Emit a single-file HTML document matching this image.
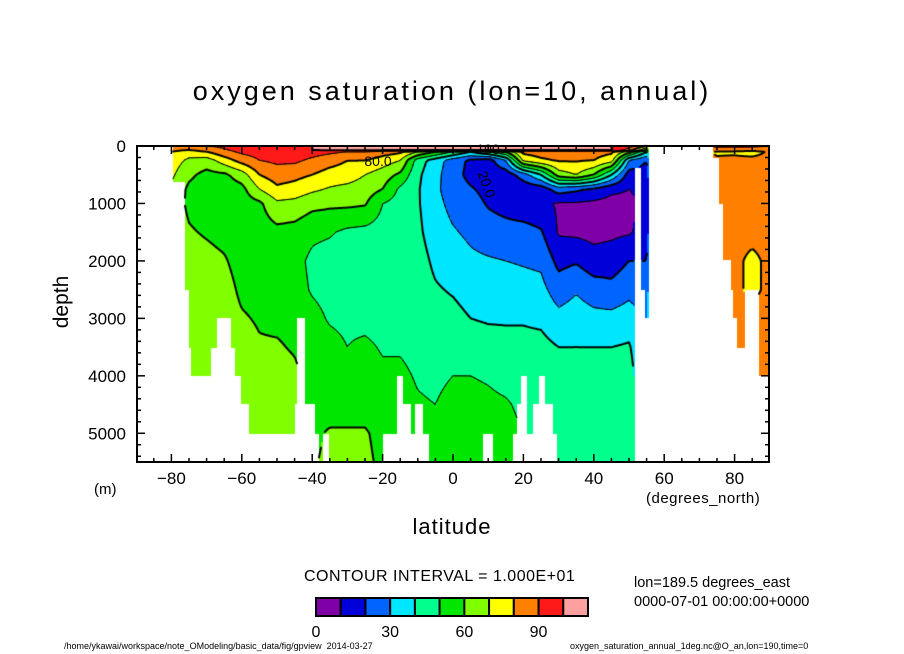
<!DOCTYPE html>
<html><head><meta charset="utf-8">
<style>
html,body{margin:0;padding:0;background:#fff;}
#root{position:relative;width:904px;height:654px;overflow:hidden;background:#fff;font-family:"Liberation Sans",sans-serif;color:#000;}
.t{position:absolute;white-space:nowrap;}
canvas{position:absolute;left:0;top:0;}
svg{position:absolute;left:0;top:0;}
</style></head>
<body>
<div id="root">
<canvas id="field" width="904" height="654"></canvas>
<svg id="ov" width="904" height="654"></svg>
<div class="t" style="left:0;width:904px;text-align:center;top:76px;font-size:27px;letter-spacing:3px;">oxygen saturation (lon=10, annual)</div>
<div class="t" style="left:30px;top:290px;font-size:21px;transform:rotate(-90deg);transform-origin:center;width:64px;text-align:center;">depth</div>
<div class="t" style="left:94px;top:481px;font-size:15px;">(m)</div>
<div class="t" style="left:0;width:904px;text-align:center;top:514px;font-size:22px;letter-spacing:1px;">latitude</div>
<div class="t" style="left:646px;top:490px;font-size:15px;letter-spacing:0.5px;">(degrees_north)</div>
<div class="t" style="left:304px;top:568px;font-size:16px;letter-spacing:0.5px;">CONTOUR INTERVAL = 1.000E+01</div>
<div class="t" style="left:634px;top:575px;font-size:14.5px;">lon=189.5 degrees_east</div>
<div class="t" style="left:634px;top:594px;font-size:14.5px;">0000-07-01 00:00:00+0000</div>
<div class="t" style="left:64px;top:641px;font-size:9px;">/home/ykawai/workspace/note_OModeling/basic_data/fig/gpview&nbsp;&nbsp;2014-03-27</div>
<div class="t" style="left:570px;top:641px;font-size:9px;">oxygen_saturation_annual_1deg.nc@O_an,lon=190,time=0</div>
</div>
<script>
// ---- data ----
const lats = [-90,-85,-80,-75,-70,-65,-60,-55,-50,-45,-40,-35,-30,-25,-20,-15,-10,-5,0,5,10,15,20,25,30,35,40,45,50,55,60,65,70,75,80,85,90];
const depths = [0,70,100,250,500,750,1000,1500,2000,2500,3000,3500,4000,4500,5000,5500];
const saturation = [
[85,82,80,75,72,70,70,70,70,70,70,70,70,70,70,70],
[85,82,80,75,72,70,70,70,70,70,70,70,70,70,70,70],
[85,82,80,75,72,68,66,66,66,66,66,66,66,66,66,66],
[88,80,75,68,62,58,58,61,64,65,66,66,66,66,66,66],
[90,84,80,65,57,55,55,59,63,65,66,66,66,66,66,66],
[92,89,87,75,58,55,55,57,61,64,65,66,66,66,66,66],
[95,93,92,84,65,57,55,54,56,58,61,64,66,67,67,67],
[96,95,94,90,80,70,58,55,55,57,59,61,64,66,67,67],
[98,96,95,92,85,78,68,57,55,56,58,61,64,66,67,67],
[98,97,96,92,83,76,67,56,53,54,57,59,62,64,65,65],
[100,100,94,88,80,72,63,52,48,49,53,55,56,57,58,59],
[102,101,92,84,76,69,62,51,46,47,49,53,55,56,61,62],
[102,101,90,80,75,67,62,48,45,46,48,50,53,56,61,62],
[102,101,90,80,70,65,61,47,44,45,47,52,55,56,61,62],
[102,101,85,75,65,60,50,46,45,45,46,49,52,55,57,58],
[102,101,82,70,58,48,46,44,44,45,46,49,52,54,56,57],
[102,101,70,45,42,41,41,42,44,45,46,47,49,51,54,55],
[102,101,60,35,33,32,33,35,38,41,44,46,48,50,53,55],
[102,101,50,25,24,25,27,31,35,39,43,47,50,53,55,56],
[102,101,40,18,17,21,24,28,32,36,40,45,50,53,55,56],
[102,101,50,15,15,17,19,25,31,36,39,44,49,52,54,55],
[102,101,60,30,14,12,16,24,30,35,39,43,47,51,53,54],
[102,101,83,72,25,13,13,24,29,34,39,43,46,48,50,51],
[102,101,85,78,40,14,12,21,28,33,38,43,45,46,47,47],
[102,101,85,81,65,25,9,9,17,25,33,40,45,46,47,47],
[102,101,85,81,70,22,9,8,19,29,35,40,45,46,47,47],
[102,101,84,80,60,18,8,7,14,25,33,40,44,45,46,46],
[100,101,82,74,40,12,7,8,15,23,33,40,44,45,46,46],
[95,85,65,30,15,10,8,9,20,27,35,41,44,45,46,46],
[80,60,40,20,15,13,12,14,20,25,28,30,30,30,30,30],
[90,87,85,84,84,84,84,84,84,84,84,84,84,84,84,84],
[90,87,85,84,84,84,84,84,84,84,84,84,84,84,84,84],
[90,87,85,84,84,84,84,84,84,84,84,84,84,84,84,84],
[92,85,78,82,84,84,84,84,84,84,84,84,84,84,84,84],
[92,85,78,83,84,84,84,84,83,83,84,84,84,84,84,84],
[92,84,75,84,84,84,84,84,77,77,84,84,84,84,84,84],
[90,86,82,84,84,84,84,84,83,83,84,84,84,84,84,84]
];
// ocean bottom: segment start latitude and bottom depth (m)
const bathyLat = [-90,-79.7,-76.3,-75.1,-74.2,-68.5,-67.1,-63.2,-61.8,-60.2,-58.1,-44.8,-44.1,-42.2,-39.1,-38.2,-37.0,-35.3,-19.9,-16.1,-14.0,-11.8,-10.65,-8.8,-6.9,8.3,11.3,17.3,18.3,19.5,21.2,22.5,24.5,26.4,28.3,29.3,51.6,53.5,54.8,55.6,74.1,75.5,76.6,78.8,79.8,80.7,82.8,86.9];
const bathyDepth = [0,630,2500,3500,4000,3500,3000,3500,4000,4500,5000,4500,3000,4500,5000,5500,5000,5500,5000,4000,4500,5000,4500,5000,5500,5000,5500,5000,4500,4000,5000,4500,4000,4500,5000,5500,370,2500,3000,0,200,1000,2000,2500,3000,3500,2500,4000];
const levels = [0,10,20,30,40,50,60,70,80,90,100,110];
const levelColors = ["#8000a8","#0000d8","#0064ff","#00e6ff","#00ff8c","#00e600","#80ff00","#ffff00","#ff8000","#ff1a1a","#ffa0a0"];
const xTicks = [-80,-60,-40,-20,0,20,40,60,80];
const yTicks = [0,1000,2000,3000,4000,5000];
const cbarLabels = [0,30,60,90];

// ---- axes ----
const X0=137,X1=769,Y0=146,Y1=462;
function xOf(lat){return 453 + lat*3.52;}
function yOf(d){return Y0 + d/5500*(Y1-Y0);}
function latOf(x){return (x-453)/3.52;}
function depOf(y){return (y-Y0)/(Y1-Y0)*5500;}

function bottomAt(lat){
  let d=0;
  for(let i=0;i<bathyLat.length;i++){ if(lat>=bathyLat[i]) d=bathyDepth[i]; }
  return d;
}
function interp1(arr,v){
  if(v<=arr[0]) return [0,0];
  for(let i=0;i<arr.length-1;i++){ if(v<=arr[i+1]) return [i,(v-arr[i])/(arr[i+1]-arr[i])]; }
  return [arr.length-2,1];
}
function valueAt(lat,d){
  const [i,fi]=interp1(lats,lat), [j,fj]=interp1(depths,d);
  const a=saturation[i][j],b=saturation[i+1][j],c=saturation[i][j+1],e=saturation[i+1][j+1];
  return (a*(1-fi)+b*fi)*(1-fj)+(c*(1-fi)+e*fi)*fj;
}
function colorFor(v){
  let k=Math.floor(v/10); if(k<0)k=0; if(k>10)k=10; return levelColors[k];
}

const cv=document.getElementById('field'), ctx=cv.getContext('2d');
const S=2;
const nx=Math.ceil((X1-X0)/S)+1, ny=Math.ceil((Y1-Y0)/S)+1;
const grid=[], mask=[];
for(let iy=0;iy<ny;iy++){
  grid.push([]); mask.push([]);
  for(let ix=0;ix<nx;ix++){
    const x=X0+ix*S, y=Y0+iy*S, lat=latOf(x), d=depOf(y);
    grid[iy].push(valueAt(lat,d));
    mask[iy].push(d<=bottomAt(lat));
  }
}
for(let iy=0;iy<ny-1;iy++){
  for(let ix=0;ix<nx-1;ix++){
    const x=X0+ix*S, y=Y0+iy*S;
    const lat=latOf(x+S/2), d=depOf(y+S/2);
    if(d>bottomAt(lat)) continue;
    ctx.fillStyle=colorFor(valueAt(lat,d));
    ctx.fillRect(x,y,S,S);
  }
}
// contours (marching squares)
ctx.strokeStyle="#000"; ctx.lineCap="round";
for(let L=10;L<=100;L+=10){
  ctx.lineWidth = (L%20===0)?2:1;
  ctx.beginPath();
  for(let iy=0;iy<ny-1;iy++){
    for(let ix=0;ix<nx-1;ix++){
      if(!(mask[iy][ix]&&mask[iy][ix+1]&&mask[iy+1][ix]&&mask[iy+1][ix+1])) continue;
      const v=[grid[iy][ix],grid[iy][ix+1],grid[iy+1][ix+1],grid[iy+1][ix]];
      const px=[X0+ix*S,X0+(ix+1)*S,X0+(ix+1)*S,X0+ix*S];
      const py=[Y0+iy*S,Y0+iy*S,Y0+(iy+1)*S,Y0+(iy+1)*S];
      const pts=[];
      for(let k=0;k<4;k++){
        const k2=(k+1)%4;
        const a=v[k]-L,b=v[k2]-L;
        if((a<0)!==(b<0)){
          const t=a/(a-b);
          pts.push([px[k]+(px[k2]-px[k])*t, py[k]+(py[k2]-py[k])*t]);
        }
      }
      if(pts.length>=2){ctx.moveTo(pts[0][0],pts[0][1]);ctx.lineTo(pts[1][0],pts[1][1]);}
      if(pts.length===4){ctx.moveTo(pts[2][0],pts[2][1]);ctx.lineTo(pts[3][0],pts[3][1]);}
    }
  }
  ctx.stroke();
}

// ---- SVG overlay ----
const NS="http://www.w3.org/2000/svg", ov=document.getElementById('ov');
function mk(tag,attrs,parent){const e=document.createElementNS(NS,tag);for(const k in attrs)e.setAttribute(k,attrs[k]);(parent||ov).appendChild(e);return e;}
const frame=mk('rect',{x:X0,y:Y0,width:X1-X0,height:Y1-Y0,fill:'none',stroke:'#000','stroke-width':2});


for(let lat=-85;lat<=85;lat+=5){
  const x=xOf(lat), major=(lat%20===0);
  const len=major?8:4;
  const t1=mk('line',{x1:x,y1:Y1,x2:x,y2:Y1-len,stroke:'#000','stroke-width':1.5});
  
  
  const t2=mk('line',{x1:x,y1:Y0,x2:x,y2:Y0+len,stroke:'#000','stroke-width':1.5});
  
  
}
for(let d=0;d<=5400;d+=200){
  const y=yOf(d), major=(d%1000===0), len=major?8:4;
  const t1=mk('line',{x1:X0,y1:y,x2:X0+len,y2:y,stroke:'#000','stroke-width':1.5});
  
  
  const t2=mk('line',{x1:X1,y1:y,x2:X1-len,y2:y,stroke:'#000','stroke-width':1.5});
  
  
}
xTicks.forEach(v=>{
  const t=mk('text',{x:xOf(v),y:484,'text-anchor':'middle','font-size':17,'font-family':'Liberation Sans, sans-serif'});
  t.textContent=(v<0?'\u2212'+(-v):String(v));
  
  
});
yTicks.forEach(v=>{
  const t=mk('text',{x:126,y:yOf(v)+6,'text-anchor':'end','font-size':17,'font-family':'Liberation Sans, sans-serif'});
  t.textContent=String(v);
  
  
});
// contour labels
[["80.0",378,166,0],["20.0",482,186,70],["100",488,154,0]].forEach(c=>{
  const t=mk('text',{x:c[1],y:c[2],'font-size':14,'font-family':'Liberation Sans, sans-serif','text-anchor':'middle',transform:'rotate('+c[3]+' '+c[1]+' '+c[2]+')'});
  t.textContent=c[0];
  
  
});
// colorbar
const CB0=316,CB1=588,CBY=598,CBH=18;
const bw=(CB1-CB0)/levelColors.length;
levelColors.forEach((c,i)=>{
  const r=mk('rect',{x:CB0+i*bw,y:CBY,width:bw,height:CBH,fill:c,stroke:'#000','stroke-width':2});
  
  
});
cbarLabels.forEach(v=>{
  const t=mk('text',{x:CB0+(v/10)*bw,y:637,'text-anchor':'middle','font-size':16,'font-family':'Liberation Sans, sans-serif'});
  t.textContent=String(v);
  
  
});
</script>
</body></html>
